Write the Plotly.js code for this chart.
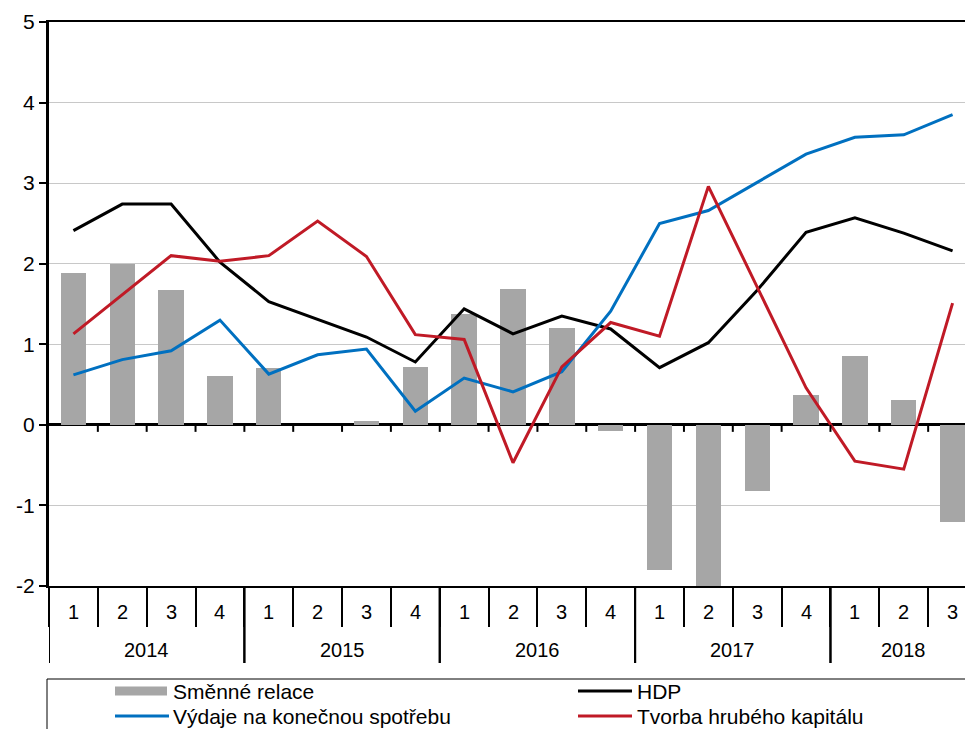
<!DOCTYPE html>
<html>
<head>
<meta charset="utf-8">
<script src="https://cdn.plot.ly/plotly-3.0.1.min.js"></script>
<style>
  html, body { margin: 0; padding: 0; overflow: hidden; background: #ffffff; }
  #chart { width: 990px; height: 760px; }
</style>
</head>
<body>
<div id="chart"></div>
<script>
// ---- Data ----
const quarters = ['1','2','3','4','1','2','3','4','1','2','3','4','1','2','3','4','1','2','3'];
const years = ['2014','2014','2014','2014','2015','2015','2015','2015','2016','2016','2016','2016','2017','2017','2017','2017','2018','2018','2018'];
const seriesNames = ['Směnné relace', 'HDP', 'Výdaje na konečnou spotřebu', 'Tvorba hrubého kapitálu'];
const smenneRelace = [1.88, 2.00, 1.67, 0.61, 0.70, 0.00, 0.05, 0.72, 1.38, 1.69, 1.20, -0.07, -1.80, -2.00, -0.82, 0.37, 0.85, 0.31, -1.20];
const hdp = [2.41, 2.74, 2.74, 2.02, 1.53, 1.31, 1.09, 0.78, 1.44, 1.13, 1.35, 1.19, 0.71, 1.02, 1.67, 2.39, 2.57, 2.38, 2.16];
const vydaje = [0.62, 0.81, 0.92, 1.30, 0.63, 0.87, 0.94, 0.17, 0.58, 0.41, 0.66, 1.41, 2.50, 2.66, 3.01, 3.36, 3.57, 3.60, 3.85];
const tvorba = [1.13, 1.62, 2.10, 2.03, 2.10, 2.53, 2.09, 1.12, 1.06, -0.47, 0.72, 1.27, 1.10, 2.96, 1.72, 0.46, -0.45, -0.55, 1.51];
const yTickValues = [-2, -1, 0, 1, 2, 3, 4, 5];
const yTickLabels = ['-2', '-1', '0', '1', '2', '3', '4', '5'];

// ---- Layout geometry (pixels) ----
const FIG_W = 990, FIG_H = 760;
const L = 49, T = 22, PW = 928, PH = 564;
const R = FIG_W - L - PW, B = FIG_H - T - PH;
const px2x = p => (p - L) / PW;
const py2y = p => (T + PH - p) / PH;

const FONT = 'Liberation Sans, Arial, sans-serif';
const colors = { bar: '#a6a6a6', hdp: '#000000', vydaje: '#0070c0', tvorba: '#c01a26' };

const idx = quarters.map((_, i) => i);
const boundaries = quarters.map((_, i) => i - 0.5).concat([quarters.length - 0.5]);

const traces = [
  { type: 'bar', name: seriesNames[0], x: idx, y: smenneRelace, width: 0.52,
    marker: { color: colors.bar, line: { width: 0 } }, hoverinfo: 'y' },
  { type: 'scatter', mode: 'lines', name: seriesNames[1], x: idx, y: hdp,
    line: { color: colors.hdp, width: 3 } },
  { type: 'scatter', mode: 'lines', name: seriesNames[2], x: idx, y: vydaje,
    line: { color: colors.vydaje, width: 3 } },
  { type: 'scatter', mode: 'lines', name: seriesNames[3], x: idx, y: tvorba,
    line: { color: colors.tvorba, width: 3 } }
];

const shapes = [];
const annotations = [];

// small ticks hanging from the zero line at category boundaries
boundaries.forEach(b => {
  if (b > 0) {
    shapes.push({ type: 'line', xref: 'x', yref: 'y', x0: b, x1: b,
      ysizemode: 'pixel', yanchor: 0, y0: 0, y1: -7,
      line: { color: '#000', width: 2 } });
  }
});

// quarter labels
quarters.forEach((q, i) => {
  annotations.push({ xref: 'x', yref: 'paper', x: i, y: 0, yshift: -26,
    text: q, showarrow: false, xanchor: 'center', yanchor: 'middle',
    font: { family: FONT, size: 20, color: '#000' } });
});

// year groups: separators and labels
const yearGroups = [];
years.forEach((y, i) => {
  const g = yearGroups[yearGroups.length - 1];
  if (!g || g.year !== y) yearGroups.push({ year: y, first: i, last: i });
  else g.last = i;
});
yearGroups.forEach(g => {
  [g.first - 0.5, g.last + 0.5].forEach(b => {
    shapes.push({ type: 'line', xref: 'x', yref: 'paper', x0: b, x1: b,
      ysizemode: 'pixel', yanchor: 0, y0: 0, y1: -77,
      line: { color: '#000', width: 2 } });
  });
  annotations.push({ xref: 'x', yref: 'paper', x: (g.first + g.last) / 2, y: 0, yshift: -64,
    text: g.year, showarrow: false, xanchor: 'center', yanchor: 'middle',
    font: { family: FONT, size: 20, color: '#000' } });
});

// ---- Legend (two columns, boxed) ----
shapes.push({ type: 'rect', xref: 'paper', yref: 'paper',
  x0: px2x(47), x1: px2x(986), y0: py2y(679), y1: py2y(750),
  line: { color: '#000', width: 1 }, fillcolor: 'rgba(0,0,0,0)' });
const legendItems = [
  { name: seriesNames[0], kind: 'bar', color: colors.bar, sx: 115, tx: 171, y: 691 },
  { name: seriesNames[1], kind: 'line', color: colors.hdp, sx: 578, tx: 635, y: 691 },
  { name: seriesNames[2], kind: 'line', color: colors.vydaje, sx: 115, tx: 171, y: 716 },
  { name: seriesNames[3], kind: 'line', color: colors.tvorba, sx: 578, tx: 635, y: 716 }
];
legendItems.forEach(it => {
  if (it.kind === 'bar') {
    shapes.push({ type: 'rect', xref: 'paper', yref: 'paper',
      x0: px2x(it.sx), x1: px2x(it.sx + 52), y0: py2y(it.y - 4.5), y1: py2y(it.y + 4.5),
      line: { width: 0 }, fillcolor: it.color });
  } else {
    shapes.push({ type: 'line', xref: 'paper', yref: 'paper',
      x0: px2x(it.sx), x1: px2x(it.sx + 54), y0: py2y(it.y), y1: py2y(it.y),
      line: { color: it.color, width: 3 } });
  }
  annotations.push({ xref: 'paper', yref: 'paper', x: px2x(it.tx), y: py2y(it.y),
    text: it.name, showarrow: false, xanchor: 'left', yanchor: 'middle',
    font: { family: FONT, size: 21, color: '#000' } });
});

const layout = {
  width: FIG_W, height: FIG_H,
  margin: { l: L, r: R, t: T, b: B, pad: 0 },
  paper_bgcolor: '#ffffff', plot_bgcolor: '#ffffff',
  showlegend: false,
  bargap: 0,
  font: { family: FONT, size: 20, color: '#000' },
  xaxis: {
    type: 'linear', range: [-0.5, quarters.length - 0.5],
    showgrid: false, zeroline: false,
    showline: true, mirror: true, linecolor: '#000', linewidth: 2,
    ticks: 'outside', tickvals: boundaries, ticklen: 39, tickwidth: 2, tickcolor: '#000',
    showticklabels: false, fixedrange: true
  },
  yaxis: {
    range: [-2, 5], tickmode: 'array', tickvals: yTickValues, ticktext: yTickLabels,
    showgrid: true, gridcolor: '#c8c8c8', gridwidth: 1,
    zeroline: true, zerolinecolor: '#000', zerolinewidth: 3,
    showline: true, linecolor: '#000', linewidth: 3,
    ticks: 'outside', ticklen: 7, tickwidth: 2, tickcolor: '#000',
    tickfont: { family: FONT, size: 21, color: '#000' },
    fixedrange: true
  },
  shapes: shapes,
  annotations: annotations
};

Plotly.newPlot('chart', traces, layout, { staticPlot: true, displayModeBar: false });
</script>
</body>
</html>
